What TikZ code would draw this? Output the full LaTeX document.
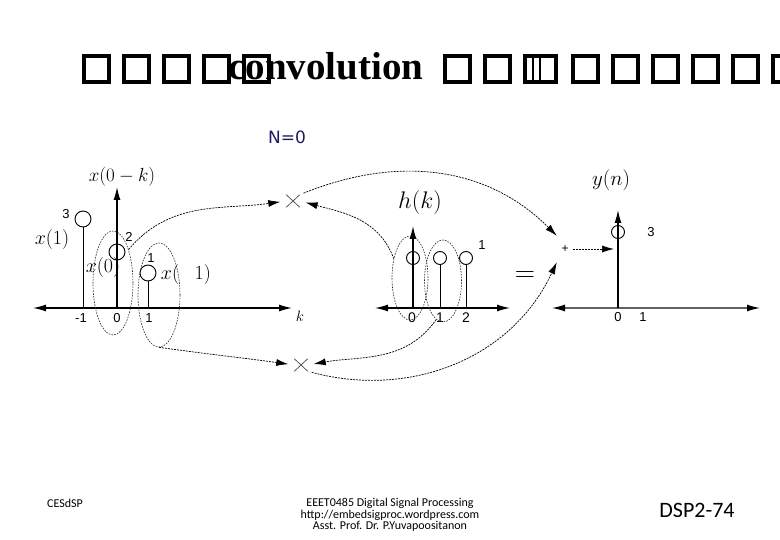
\RequirePackage{fix-cm}
\documentclass[tikz,border=0pt]{standalone}
\usepackage{fontspec}
\setmainfont{Liberation Serif}
\newfontfamily\digitfont{Liberation Sans}
\newfontfamily\notefont{Carlito}
\newfontfamily\verdfont{DejaVu Sans}
\usetikzlibrary{arrows.meta,shapes.geometric,shapes.misc}
\definecolor{navy}{HTML}{1C1C60}
\setlength{\fboxrule}{4pt}
\setlength{\fboxsep}{0pt}
\newcommand{\sz}[1]{\fontsize{#1}{#1}\selectfont}
\newcommand{\tofu}{\fbox{\rule[1pt]{0pt}{21pt}\hspace{21pt}}\hspace{11pt}}
\newcommand{\tofuii}{\fbox{\rule[1pt]{0pt}{21pt}\hspace{5pt}\vrule width 2pt\hspace{5pt}\vrule width 2pt\hspace{13pt}}\hspace{13pt}}
\tikzset{
  axisline/.style={line width=1.2pt, {Latex[length=13pt,width=7pt]}-{Latex[length=13pt,width=7pt]}},
  greyaxis/.style={line width=1.2pt, draw=black!62, {Latex[length=13pt,width=7pt,black]}-{Latex[length=13pt,width=7pt,black]}},
  upaxis/.style={line width=1.2pt, -{Latex[length=13pt,width=7pt]}},
  stemline/.style={line width=0.9pt},
  ring/.style={circle, draw, line width=0.9pt, inner sep=0pt, minimum size=#1},
  zone/.style={ellipse, draw=black!85, dash pattern=on 1.6pt off 1.2pt, line width=0.6pt, inner sep=0pt},
  dlink/.style={-{Latex[length=12pt,width=7pt]}, dash pattern=on 2pt off 1pt, line width=0.7pt},
  tomul/.style={dlink, shorten >=6pt},
  frommul/.style={dlink, shorten <=4pt},
  mulmark/.style={cross out, draw=black!80, line width=0.6pt, minimum width=13pt, minimum height=12pt, inner sep=0pt},
  numlbl/.style={font=\digitfont\sz{13}, inner sep=1pt},
  mathlbl/.style={font=\sz{20}, inner sep=0pt},
  tofurow/.style={font=\bfseries\sz{39}, anchor=base west, inner sep=0pt},
  footnote/.style={font=\notefont\sz{12}, align=center},
}
\def\yAx{-308}
\begin{document}
\begin{tikzpicture}[x=1pt,y=1pt]
  \useasboundingbox (0,0) rectangle (780,-540);
  \node[tofurow] (tofuL) at (82,-80) {\tofu\tofu\tofu\tofu\tofu};
  \node[tofurow] (headword) at (228,-80) {convolution};
  \node[tofurow] (tofuR) at (443,-80) {\tofu\tofu\tofuii\tofu\tofu\tofu\tofu\tofu\tofu};
  \node[font=\verdfont\sz{17}, text=navy] (ncase) at (287,-137) {N=0};
  % x(0-k)
  \coordinate (xL) at (33,\yAx); \coordinate (xR) at (292,\yAx);
  \coordinate (xO) at (117,\yAx); \coordinate (xT) at (117,-187);
  \draw[axisline] (xL) -- (xR);
  \draw[upaxis] (xO) -- (xT);
  \node[ring=16pt] (xa) at (83,-219) {};
  \node[ring=16pt] (xb) at (117,-252) {};
  \node[ring=16pt] (xc) at (148,-273) {};
  \draw[stemline] (xa.south |- xO) -- (xa.south);
  \draw[stemline] (xc.south |- xO) -- (xc.south);
  \node[numlbl] (xav) at (66,-214) {3};
  \node[numlbl] (xbv) at (129,-237) {2};
  \node[numlbl] (xcv) at (151,-258) {1};
  \node[numlbl] (xat) at (81,-318) {-1};
  \node[numlbl] (xbt) at (117,-318) {0};
  \node[numlbl] (xct) at (149,-318) {1};
  \node[mathlbl] (xal) at (52,-240) {$x(1)$};
  \node[mathlbl] (xbl) at (103,-268) {$x(0)$};
  \node[mathlbl] (xcl) at (186,-275) {$x(\phantom{-}1)$};
  \node[mathlbl, font=\sz{19}] (xhead) at (122,-177) {$x(0-k)$};
  \node[font=\sz{15}] (klbl) at (300,-316) {$k$};
  \node[zone, minimum width=40pt, minimum height=104pt] (ex0) at (113,-283) {};
  \node[zone, minimum width=42pt, minimum height=104pt] (ex1) at (159,-295) {};
  \node[mulmark] (mulA) at (293,-201) {};
  \node[mulmark] (mulB) at (301,-365) {};
  % h(k)
  \coordinate (hL) at (375,\yAx); \coordinate (hR) at (510,\yAx);
  \coordinate (hO) at (413,\yAx); \coordinate (hT) at (413,-226);
  \draw[axisline] (hL) -- (hR);
  \draw[upaxis] (hO) -- (hT);
  \node[ring=13pt] (ha) at (413,-258) {};
  \node[ring=13pt] (hb) at (440,-258) {};
  \node[ring=13pt] (hc) at (466,-258) {};
  \draw[stemline] (hb.south |- hO) -- (hb.south);
  \draw[stemline] (hc.south |- hO) -- (hc.south);
  \node[numlbl] (hcv) at (482,-245) {1};
  \node[numlbl, font=\digitfont\sz{14}] (hat) at (412,-318) {0};
  \node[numlbl, font=\digitfont\sz{14}] (hbt) at (440,-318) {1};
  \node[numlbl, font=\digitfont\sz{14}] (hct) at (466,-318) {2};
  \node[mathlbl, font=\sz{24}] (hhead) at (420,-203) {$h(k)$};
  \node[zone, minimum width=36pt, minimum height=84pt] (hz0) at (410,-278) {};
  \node[zone, minimum width=37pt, minimum height=82pt] (hz1) at (443,-281) {};
  \node[font=\sz{28}] (eqsign) at (525,-277) {$=$};
  % y(n)
  \coordinate (yL) at (552,\yAx); \coordinate (yR) at (760,\yAx);
  \coordinate (yO) at (618,\yAx); \coordinate (yT) at (618,-210);
  \draw[greyaxis] (yL) -- (yR);
  \draw[upaxis] (yO) -- (yT);
  \node[ring=13pt] (ya) at (618,-232) {};
  \node[numlbl] (yav) at (651,-232) {3};
  \node[numlbl] (yat) at (618,-317) {0};
  \node[numlbl] (ybt) at (643,-317) {1};
  \node[mathlbl, font=\sz{21}] (yhead) at (611,-180) {$y(n)$};
  \node[font=\digitfont\sz{12}, inner sep=0pt, minimum width=16pt, minimum height=26pt] (plus) at (565,-249) {+};
  \coordinate (yin) at (614,-249);
  \draw[tomul] (ex0.65) to[out=50,in=188] (mulA.west);
  \draw[tomul] (hz0.130) to[out=110,in=-15] (mulA.east);
  \draw[frommul] (mulA.north east) to[out=22,in=135] (plus.north west);
  \draw[tomul] (ex1.south) to[out=-8,in=172] (mulB.west);
  \draw[tomul] (hz1.260) to[out=235,in=10] (mulB.east);
  \draw[frommul] (mulB.south east) to[out=-15,in=-115] (plus.south west);
  \draw[dlink] (plus.east) -- (yin);
  % footer
  \node[footnote] (left) at (65,-503) {CESdSP};
  \node[footnote] (mid) at (390,-515) {EEET0485 Digital Signal Processing\\[-0.5pt]http://embedsigproc.wordpress.com\\[-0.5pt]Asst. Prof. Dr. P.Yuvapoositanon};
  \node[font=\notefont\sz{22}] (page) at (697,-510) {DSP2-74};
\end{tikzpicture}
\end{document}
